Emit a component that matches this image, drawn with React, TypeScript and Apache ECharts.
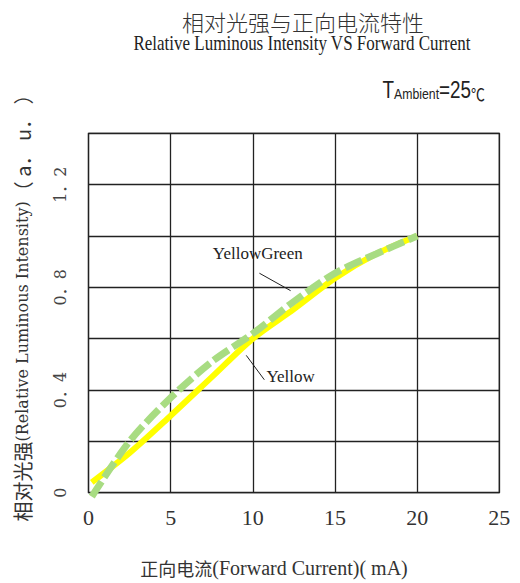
import React, { useEffect, useRef } from "react";
import * as echarts from "echarts";

// Forward current (mA) and relative luminous intensity (a.u.)
const yellowCurrent = [0.2, 2.5, 5, 7.5, 10, 12.5, 15, 17.5, 20];
const yellowIntensity = [0.04, 0.155, 0.3, 0.45, 0.6, 0.715, 0.835, 0.93, 1.0];
const greenCurrent = [0.2, 2.5, 5, 7.5, 10, 12.5, 15, 17.5, 20];
const greenIntensity = [-0.015, 0.2, 0.37, 0.51, 0.62, 0.745, 0.855, 0.93, 1.0];

const yLabelValues = [0, 0.4, 0.8, 1.2];

const titleCN = "相对光强与正向电流特性";
const titleEN = "Relative Luminous Intensity VS Forward Current";

// annotation anchors in data space
const greenNote = { text: "YellowGreen", at: [10.3, 0.93], line: [10.4, 0.855, 12.3, 0.787] };
const yellowNote = { text: "Yellow", at: [12.3, 0.452], line: [9.6, 0.535, 10.7, 0.44] };

const zip = (xs: number[], ys: number[]) => xs.map((x, i) => [x, ys[i]]);

export default function App() {
  const ref = useRef<HTMLDivElement>(null);
  useEffect(() => {
    const chart = echarts.init(ref.current!, null, { renderer: "svg" });
    chart.setOption({
      animation: false,
      grid: {
        left: 88.5,
        right: 20.7,
        top: 133.3,
        bottom: 90.3,
        show: true,
        borderColor: "#222",
        borderWidth: 1.3,
        backgroundColor: "transparent",
      },
      xAxis: {
        type: "value",
        min: 0,
        max: 25,
        interval: 5,
        axisLine: { show: false },
        axisTick: { show: false },
        splitLine: { show: true, lineStyle: { color: "#222", width: 1.3 } },
        axisLabel: {
          color: "#333",
          fontFamily: "Liberation Serif",
          fontSize: 22,
          margin: 14,
        },
      },
      yAxis: {
        type: "value",
        min: 0,
        max: 1.4,
        interval: 0.2,
        axisLine: { show: false },
        axisTick: { show: false },
        splitLine: { show: true, lineStyle: { color: "#222", width: 1.3 } },
        axisLabel: {
          rotate: 90,
          margin: 20,
          color: "#444",
          fontFamily: "DejaVu Serif, Noto Sans CJK SC",
          fontSize: 16,
          formatter: (v: number) => {
            const r = Math.round(v * 10) / 10;
            if (!yLabelValues.includes(r)) return "";
            if (r === 0) return "0";
            return r.toFixed(1).replace(".", "．");
          },
        },
      },
      series: [
        {
          name: "Yellow",
          type: "line",
          data: zip(yellowCurrent, yellowIntensity),
          showSymbol: false,
          smooth: 0.3,
          clip: false,
          lineStyle: { color: "#ffff00", width: 6 },
          z: 2,
        },
        {
          name: "YellowGreen",
          type: "line",
          data: zip(greenCurrent, greenIntensity),
          showSymbol: false,
          smooth: 0.3,
          clip: false,
          lineStyle: { color: "#a8dc82", width: 7, type: [18, 5], cap: "butt" },
          z: 3,
        },
      ],
    });

    const px = (x: number, y: number) => chart.convertToPixel({ gridIndex: 0 }, [x, y]) as number[];
    const noteGraphics = [greenNote, yellowNote].flatMap((n) => {
      const t = px(n.at[0], n.at[1]);
      const a = px(n.line[0], n.line[1]);
      const b = px(n.line[2], n.line[3]);
      return [
        {
          type: "text",
          x: t[0],
          y: t[1],
          style: {
            text: n.text,
            fontFamily: "Liberation Serif",
            fontSize: 17,
            fill: "#222",
            textAlign: "center",
            textVerticalAlign: "middle",
          },
          z: 10,
        },
        {
          type: "line",
          shape: { x1: a[0], y1: a[1], x2: b[0], y2: b[1] },
          style: { stroke: "#222", lineWidth: 1 },
          z: 10,
        },
      ];
    });

    chart.setOption({
      graphic: [
        {
          type: "text",
          x: 303,
          y: 21,
          style: {
            text: titleCN,
            fontFamily: "Noto Sans CJK SC",
            fontWeight: 300,
            fontSize: 22,
            fill: "#333",
            textAlign: "center",
            textVerticalAlign: "middle",
          },
        },
        {
          type: "text",
          x: 302,
          y: 43,
          scaleX: 0.85,
          style: {
            text: titleEN,
            fontFamily: "Liberation Serif",
            fontSize: 20,
            fill: "#222",
            textAlign: "center",
            textVerticalAlign: "middle",
          },
        },
        {
          type: "text",
          x: 485,
          y: 90,
          scaleX: 0.82,
          style: {
            text: "{big|T}{small|Ambient}{big|=25}{deg|℃}",
            textAlign: "right",
            textVerticalAlign: "middle",
            rich: {
              big: { fontFamily: "Liberation Sans", fontSize: 23, fill: "#222", verticalAlign: "bottom" },
              small: { fontFamily: "Liberation Sans", fontSize: 15, fill: "#222", verticalAlign: "bottom" },
              deg: { fontFamily: "Noto Sans CJK SC", fontSize: 17, fill: "#222", verticalAlign: "bottom" },
            },
          },
        },
        {
          type: "text",
          x: 22,
          y: 303,
          rotation: Math.PI / 2,
          style: {
            text: "{cjk|相对光强}{lat|(Relative Luminous Intensity)}{cjk|（ a． u． ）}",
            textAlign: "center",
            textVerticalAlign: "middle",
            rich: {
              cjk: { fontFamily: "Noto Sans CJK SC", fontSize: 20, fill: "#333" },
              lat: { fontFamily: "DejaVu Serif", fontSize: 16, fill: "#333" },
            },
          },
        },
        {
          type: "text",
          x: 274,
          y: 568,
          style: {
            text: "{cjk|正向电流}{lat|(Forward Current)( mA)}",
            textAlign: "center",
            textVerticalAlign: "middle",
            rich: {
              cjk: { fontFamily: "Noto Sans CJK SC", fontSize: 18, fill: "#333" },
              lat: { fontFamily: "Liberation Serif", fontSize: 20, fill: "#333" },
            },
          },
        },
        ...noteGraphics,
      ],
    });
    return () => chart.dispose();
  }, []);
  return (
    <div
      ref={ref}
      style={{ position: "fixed", left: 0, top: 0, width: 520, height: 583, background: "#fff" }}
    />
  );
}
